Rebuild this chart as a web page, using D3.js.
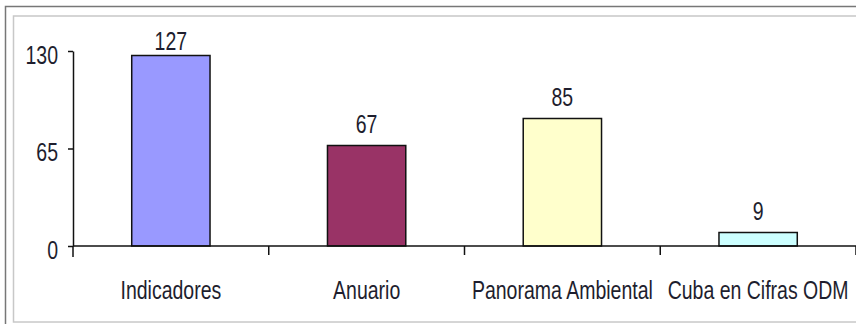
<!DOCTYPE html>
<head>
  <meta charset="utf-8" />
  <title>Publicaciones</title>
  <style>
    body { margin: 0; background: #fff; }
    svg { display: block; }
    text { font-family: "Liberation Sans", Arial, sans-serif; fill: #1e1e2e; }
  </style>
</head>
<body>
  <script src="https://cdn.jsdelivr.net/npm/d3@7"></script>
  <script>
    var categories = ["Indicadores", "Anuario", "Panorama Ambiental", "Cuba en Cifras ODM"];
    var values = [127, 67, 85, 9];
    var colors = ["#9999ff", "#993366", "#ffffcc", "#ccffff"];
    var yTicks = [0, 65, 130];

    var width = 856, height = 324;
    var fs = 25, sx = 0.78; // narrow, tall looking text

    var svg = d3.select("body").append("svg")
      .attr("width", width)
      .attr("height", height);

    // frames
    svg.append("rect").attr("x", 5.5).attr("y", 6.5)
      .attr("width", width + 10).attr("height", height + 10)
      .attr("fill", "none").attr("stroke", "#777").attr("stroke-width", 1.5);
    svg.append("rect").attr("x", 13.5).attr("y", 16)
      .attr("width", width + 10).attr("height", 306)
      .attr("fill", "none").attr("stroke", "#c8c8c8").attr("stroke-width", 1.5);

    var x = d3.scaleBand()
      .domain(categories)
      .range([73, 856])
      .paddingInner(0.6)
      .paddingOuter(0.3);
    var y = d3.scaleLinear().domain([0, 130]).range([246, 51]);

    // bars
    svg.append("g").selectAll("rect")
      .data(values)
      .enter()
      .append("rect")
      .attr("x", function (d, i) { return x(categories[i]); })
      .attr("y", function (d) { return y(d); })
      .attr("width", x.bandwidth())
      .attr("height", function (d) { return y(0) - y(d); })
      .attr("fill", function (d, i) { return colors[i]; })
      .attr("stroke", "#111")
      .attr("stroke-width", 1.5);

    // y axis
    var yAxis = d3.axisLeft(y).tickValues(yTicks).tickSize(5).tickSizeOuter(0).tickFormat("");
    var ga = svg.append("g").attr("transform", "translate(73,0)").call(yAxis);
    ga.selectAll("path, line").attr("stroke", "#111").attr("stroke-width", 1.5);
    svg.append("line")
      .attr("x1", 73).attr("x2", 73)
      .attr("y1", y(0)).attr("y2", y(0) + 11)
      .attr("stroke", "#111").attr("stroke-width", 1.5);

    svg.append("g").selectAll("text")
      .data(yTicks)
      .enter()
      .append("text")
      .attr("text-anchor", "end")
      .attr("font-size", fs)
      .attr("transform", function (d) { return "translate(58," + (y(d) + 12.5) + ") scale(" + sx + ",1)"; })
      .text(function (d) { return d; });

    // x axis
    svg.append("line")
      .attr("x1", 73).attr("x2", width)
      .attr("y1", y(0)).attr("y2", y(0))
      .attr("stroke", "#111").attr("stroke-width", 1.5);
    svg.append("g").selectAll("line")
      .data(categories)
      .enter()
      .append("line")
      .attr("x1", function (d, i) { return 73 + x.step() * (i + 1); })
      .attr("x2", function (d, i) { return 73 + x.step() * (i + 1); })
      .attr("y1", y(0)).attr("y2", y(0) + 9)
      .attr("stroke", "#111").attr("stroke-width", 1.5);

    svg.append("g").selectAll("text")
      .data(categories)
      .enter()
      .append("text")
      .attr("text-anchor", "middle")
      .attr("font-size", fs)
      .attr("transform", function (d) {
        return "translate(" + (x(d) + x.bandwidth() / 2) + ",299) scale(" + sx + ",1)";
      })
      .text(function (d) { return d; });

    // value labels
    svg.append("g").selectAll("text")
      .data(values)
      .enter()
      .append("text")
      .attr("text-anchor", "middle")
      .attr("font-size", fs)
      .attr("transform", function (d, i) {
        var ty = Math.max(y(d) - 13, y(130) - 1);
        return "translate(" + (x(categories[i]) + x.bandwidth() / 2) + "," + ty + ") scale(" + sx + ",1)";
      })
      .text(function (d) { return d; });
  </script>
</body>
